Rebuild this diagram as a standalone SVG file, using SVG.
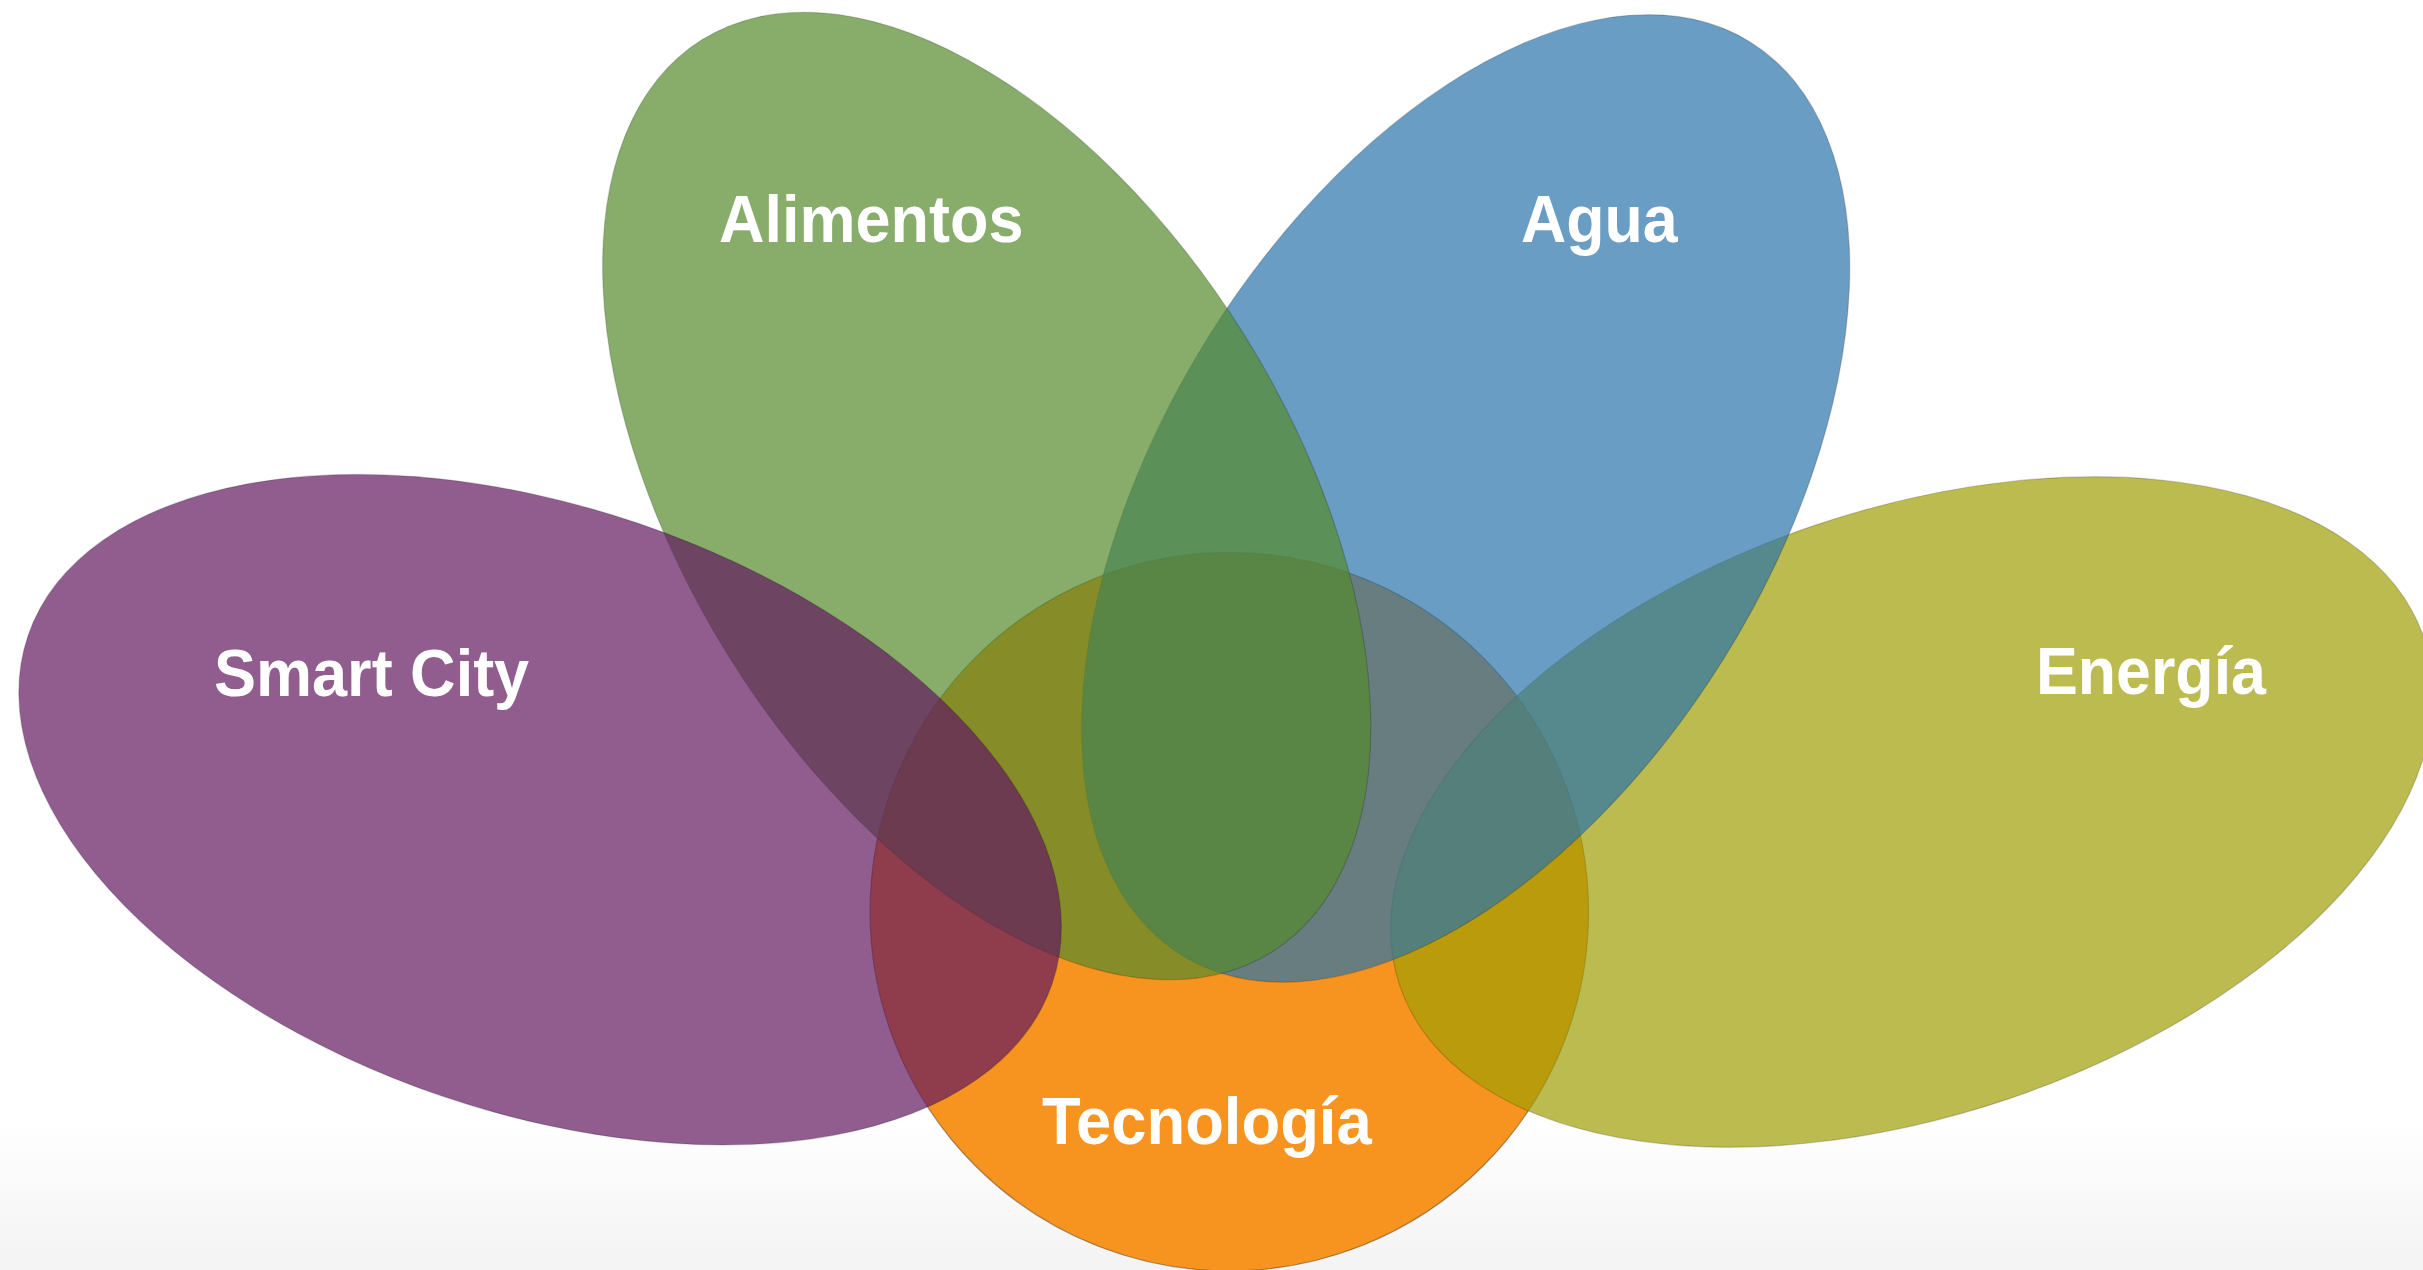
<svg xmlns="http://www.w3.org/2000/svg" width="2423" height="1270" viewBox="0 0 2423 1270">
  <defs>
    <linearGradient id="floor" x1="0" y1="0" x2="0" y2="1">
      <stop offset="0" stop-color="#ffffff"/>
      <stop offset="1" stop-color="#f3f3f3"/>
    </linearGradient>
    <style>
      .petal { fill-opacity: 0.7; stroke: #000; stroke-opacity: 0.18; stroke-width: 1.2; }
      .core { stroke: #000; stroke-opacity: 0.35; stroke-width: 1.2; }
      .label { font-family: "Liberation Sans", Arial, sans-serif; font-weight: bold; font-size: 66px; fill: #ffffff; }
    </style>
  </defs>
  <rect x="0" y="0" width="2423" height="1270" fill="#ffffff"/>
  <rect x="0" y="1120" width="2423" height="150" fill="url(#floor)"/>

  <g id="tecnologia">
    <circle class="core" cx="1229.3" cy="911.7" r="359.3" fill="#F7941F"/>
  </g>
  <g id="energia">
    <ellipse class="petal" cx="0" cy="0" rx="540.8" ry="302.7" fill="#9E9E04" transform="translate(1912 812) rotate(-18.75)"/>
    <text class="label" x="0" y="0" transform="translate(2036 694) scale(0.95 1)">Energía</text>
  </g>
  <g id="agua">
    <ellipse class="petal" cx="0" cy="0" rx="537.8" ry="303.8" fill="#2A74A9" transform="translate(1465.7 498.4) rotate(-58.03)"/>
    <text class="label" x="0" y="0" transform="translate(1521 242) scale(0.95 1)">Agua</text>
  </g>
  <g id="alimentos">
    <ellipse class="petal" cx="0" cy="0" rx="537.8" ry="303.8" fill="#558A2C" transform="translate(986.7 496) rotate(58.03)"/>
    <text class="label" x="0" y="0" transform="translate(719 242) scale(0.955 1)">Alimentos</text>
  </g>
  <g id="smart-city">
    <ellipse class="petal" cx="0" cy="0" rx="540.8" ry="302.7" fill="#63185F" transform="translate(540.1 809.7) rotate(18.75)"/>
    <text class="label" x="0" y="0" transform="translate(214 696) scale(0.955 1)">Smart City</text>
  </g>
  <g id="tecnologia-label">
    <text class="label" x="0" y="0" transform="translate(1042 1144) scale(0.96 1)">Tecnología</text>
  </g>
  <g id="connectors"/>
</svg>
